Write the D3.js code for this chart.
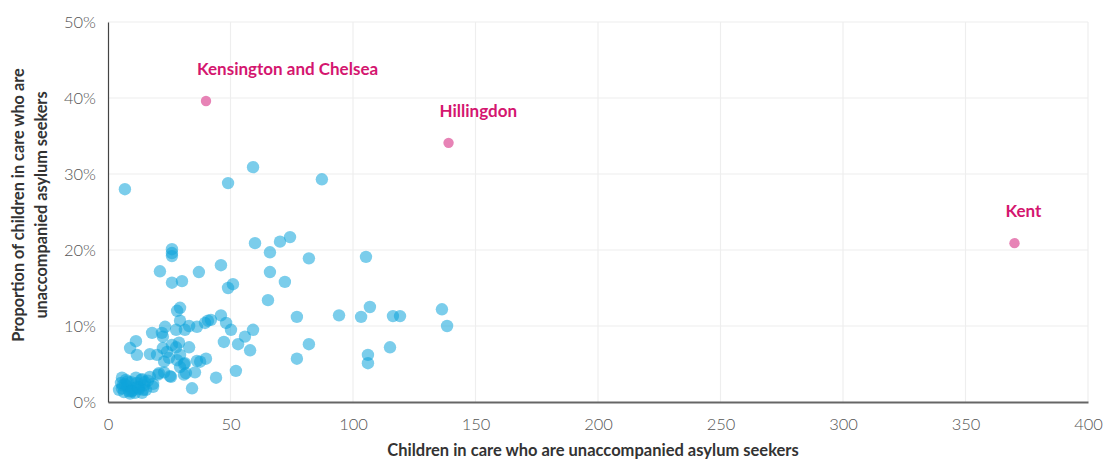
<!DOCTYPE html>
<html><head><meta charset="utf-8">
<script src="https://cdn.jsdelivr.net/npm/d3@7"></script>
<style>body{margin:0;background:#fff}svg{display:block}</style>
</head><body><svg id="c" width="1106" height="459"></svg>
<script>
// Children in care who are UASC (count) and proportion (%)
const countValues = [6.9,49,59.2,87.3,21.2,26.1,26.1,26.1,26.1,30.2,37.1,46.1,49,51,60,66.1,66.1,65.3,70.2,74.3,82,105.3,72.2,77.1,94.3,103.3,106.9,116.3,119.2,136.3,138.4,82,77.1,106.1,106.1,115.1,36.3,39.6,40.8,42,46.1,48.2,50.2,59.2,55.9,53.1,47.3,58,36.3,37.6,40,35.5,44.1,52.2,34.3,28.2,29.4,29.4,23.3,18,22,22.4,27.8,31.4,33.1,11.4,9,11.8,17.1,20,22.4,24.1,26.1,27.8,29,33.1,22.9,24.9,28.2,31,29.4,29.4,31.4,20.8,22.9,25.7,31,31.8,18.4,14.3,20.4,25.3,5.3,5.7,6.5,7.8,8.6,9.4,10.2,11,11.8,12.7,13.5,13.9,14.7,15.5,16.3,5.7,7.3,9,11.4,17.1,18.4,4.5,6,8,10,12,14,7,9.5,12.5,15];
const shareValues = [28.0,28.8,30.9,29.3,17.2,20.1,19.6,19.2,15.7,15.9,17.1,18.0,15.0,15.5,20.9,19.7,17.1,13.4,21.1,21.7,18.9,19.1,15.8,11.2,11.4,11.2,12.5,11.3,11.3,12.2,10.0,7.6,5.7,6.2,5.1,7.2,9.9,10.4,10.7,10.8,11.4,10.4,9.5,9.5,8.6,7.6,7.9,6.8,5.4,5.3,5.7,3.9,3.2,4.1,1.8,12.0,12.4,10.7,9.9,9.1,9.1,8.6,9.5,9.5,10.0,8.0,7.1,6.2,6.3,6.2,7.1,6.6,7.5,7.2,7.8,7.2,5.3,5.8,5.5,5.0,6.2,4.6,5.1,3.8,3.9,3.3,3.6,3.8,2.0,1.6,3.6,3.4,2.5,1.8,1.3,2.1,1.4,2.6,1.8,1.2,2.5,1.7,2.9,1.2,2.2,1.6,2.8,3.2,2.9,1.1,3.2,3.3,2.4,1.6,2.2,2.7,1.5,2.0,3.0,2.3,1.4,1.9,2.6];
const highlightNames = ["Kensington and Chelsea","Hillingdon","Kent"];
const highlightCounts = [40,139,370];
const highlightShares = [39.6,34.1,20.9];
const xTicks = [0,50,100,150,200,250,300,350,400];
const yTicks = [0,10,20,30,40,50];

const svg = d3.select("#c");
const m = {l:108, r:1088, t:22, b:402};
const x = d3.scaleLinear().domain([0,400]).range([m.l,m.r]);
const y = d3.scaleLinear().domain([0,50]).range([m.b,m.t]);
const font = "Lato, 'Open Sans', sans-serif";

// grid
svg.append("g").selectAll("line").data(yTicks.filter(d=>d>0)).join("line")
  .attr("x1",m.l).attr("x2",m.r).attr("y1",d=>y(d)).attr("y2",d=>y(d))
  .attr("stroke","#eeeeee").attr("stroke-width",1.2);
svg.append("g").selectAll("line").data(xTicks.filter(d=>d>0)).join("line")
  .attr("x1",d=>x(d)).attr("x2",d=>x(d)).attr("y1",m.t).attr("y2",m.b)
  .attr("stroke","#eeeeee").attr("stroke-width",1.2);

// axes
const xa = svg.append("g").attr("transform",`translate(0,${m.b})`)
  .call(d3.axisBottom(x).tickValues(xTicks).tickSize(0).tickPadding(16).tickFormat(d3.format("d")));
xa.select(".domain").attr("stroke","#666").attr("stroke-width",2);
const ya = svg.append("g").attr("transform",`translate(${m.l},0)`)
  .call(d3.axisLeft(y).tickValues(yTicks).tickSize(0).tickPadding(12).tickFormat(d=>d+"%"));
ya.select(".domain").attr("stroke","#444").attr("stroke-width",1.2);
svg.selectAll(".tick text").attr("font-family",font).attr("font-size",16.5)
  .attr("fill","#555").attr("font-weight",300);

// points
svg.append("g").selectAll("circle").data(countValues.map((c,i)=>[c,shareValues[i]])).join("circle")
  .attr("cx",d=>x(d[0])).attr("cy",d=>y(d[1])).attr("r",6.2)
  .attr("fill","#0fa4db").attr("fill-opacity",0.55);

const hl = highlightNames.map((n,i)=>({n, c:highlightCounts[i], s:highlightShares[i]}));
svg.append("g").selectAll("circle").data(hl).join("circle")
  .attr("cx",d=>x(d.c)).attr("cy",d=>y(d.s)).attr("r",5.2).attr("fill","#e783b6");
svg.append("g").selectAll("text").data(hl).join("text")
  .attr("x",d=>x(d.c)-9).attr("y",d=>y(d.s)-26).text(d=>d.n)
  .attr("font-family",font).attr("font-size",17).attr("font-weight",700).attr("fill","#d4166f");

// titles
svg.append("text").attr("x",593).attr("y",456).attr("text-anchor","middle")
  .attr("font-family",font).attr("font-size",16.5).attr("font-weight",700).attr("fill","#333")
  .text("Children in care who are unaccompanied asylum seekers");
const yt = svg.append("text").attr("transform","translate(0,205) rotate(-90)").attr("text-anchor","middle")
  .attr("font-family",font).attr("font-size",16.3).attr("font-weight",700).attr("fill","#333");
yt.append("tspan").attr("x",0).attr("y",24).text("Proportion of children in care who are");
yt.append("tspan").attr("x",0).attr("y",47).text("unaccompanied asylum seekers");
</script></body></html>
